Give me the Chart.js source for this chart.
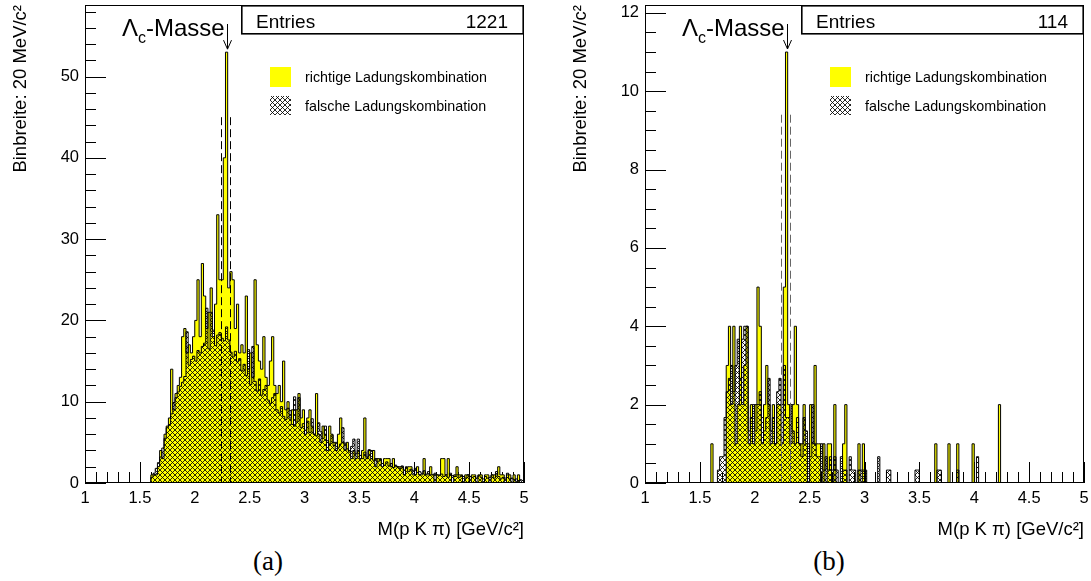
<!DOCTYPE html>
<html>
<head>
<meta charset="utf-8">
<script src="https://cdn.jsdelivr.net/npm/chart.js@4.4.0/dist/chart.umd.min.js"></script>
<style>
  body { margin: 0; background: #fff; width: 1091px; height: 581px; overflow: hidden; position: relative; }
  .panel { position: absolute; top: 0; width: 545px; height: 545px; }
  .caption { position: absolute; top: 548px; width: 80px; text-align: center; line-height: 1;
             font-family: "Liberation Serif", "DejaVu Serif", serif; font-size: 27px; color: #000; }
</style>
</head>
<body>
<div class="panel" style="left:0"><canvas id="chartA" width="545" height="545"></canvas></div>
<div class="panel" style="left:560px"><canvas id="chartB" width="545" height="545"></canvas></div>
<div class="caption" style="left:228px">(a)</div>
<div class="caption" style="left:789px">(b)</div>
<script>
// binning: 200 bins of 20 MeV from 1 to 5 GeV
const binLow = 1.0;
const binWidth = 0.02;
const xTicks = [1, 1.5, 2, 2.5, 3, 3.5, 4, 4.5, 5];
const yTicksA = [0, 10, 20, 30, 40, 50];
const yTicksB = [0, 2, 4, 6, 8, 10, 12];

// (a) richtige Ladungskombination
const yellowA = [
  0, 0, 0, 0, 0, 0, 0, 0, 0, 0,
  0, 0, 0, 0, 0, 0, 0, 0, 0, 0,
  0, 0, 0, 0, 0, 0, 0, 0, 0, 0,
  1, 1, 1, 2, 4, 3, 6, 7, 8, 14,
  9, 11, 12, 13, 18, 19, 16, 17, 16, 18,
  20, 25, 18, 27, 23, 19, 21, 24, 18, 22,
  33, 25, 25, 40, 53, 24, 26, 25, 19, 22,
  16, 17, 16, 23, 14, 16, 13, 25, 17, 15,
  14, 18, 13, 12, 15, 18, 12, 11, 12, 10,
  15, 9, 10, 8, 9, 7, 9, 11, 8, 9,
  6, 8, 9, 7, 6, 11, 6, 5, 7, 6,
  4, 7, 6, 5, 4, 6, 8, 5, 4, 5,
  4, 3, 4, 3, 4, 3, 4, 8, 3, 4,
  3, 4, 2, 3, 3, 2, 3, 3, 3, 2,
  3, 2, 2, 2, 2, 1, 2, 2, 2, 1,
  1, 2, 1, 1, 3, 1, 1, 2, 1, 0,
  1, 1, 3, 3, 1, 3, 1, 0, 1, 2,
  1, 1, 0, 1, 1, 0, 1, 1, 0, 1,
  1, 0, 1, 1, 0, 1, 1, 1, 2, 1,
  1, 0, 1, 1, 0, 1, 0, 1, 0, 0
];

// (a) falsche Ladungskombination
const hatchA = [
  0, 0, 0, 0, 0, 0, 0, 0, 0, 0,
  0, 0, 0, 0, 0, 0, 0, 0, 0, 0,
  0, 0, 0, 0, 0, 0, 0, 0, 0, 0,
  0.7, 1.2, 1.8, 2.5, 3.2, 4.3, 5.5, 6.8, 7.2, 8.5,
  9.9, 10.5, 11.2, 11.9, 12.4, 13.1, 18.6, 14.5, 15.2, 15.6,
  15.0, 16.3, 16.0, 16.8, 17.2, 21.5, 16.5, 21.0, 18.8, 16.9,
  18.2, 18.5, 17.8, 17.5, 19.2, 17.6, 16.1, 15.5, 16.2, 14.9,
  15.3, 13.8, 14.6, 13.2, 16.4, 12.1, 16.8, 12.5, 11.3, 12.8,
  10.8, 11.5, 12.0, 10.2, 9.8, 10.5, 11.0, 9.0, 8.6, 9.4,
  8.2, 7.8, 9.2, 8.9, 7.2, 10.6, 7.5, 10.5, 6.8, 7.3,
  6.5, 7.6, 6.2, 7.9, 6.0, 5.8, 7.4, 6.3, 5.5, 7.0,
  5.2, 4.8, 5.9, 4.6, 5.0, 4.4, 4.8, 6.8, 4.9, 4.2,
  3.8, 4.5, 5.4, 3.6, 5.4, 3.4, 3.0, 3.8, 3.2, 4.1,
  4.0, 2.8, 3.0, 2.6, 2.9, 2.4, 2.2, 2.6, 2.1, 2.4,
  1.9, 2.2, 2.0, 1.8, 2.1, 1.6, 1.9, 1.4, 1.7, 1.5,
  1.8, 1.3, 1.4, 1.2, 1.5, 1.1, 1.4, 1.0, 1.0, 1.2,
  1.0, 0.9, 1.1, 0.8, 1.0, 0.7, 1.2, 0.9, 0.8, 1.0,
  0.7, 0.9, 0.8, 0.6, 1.0, 0.8, 0.7, 0.8, 0.6, 0.9,
  0.7, 0.5, 0.8, 0.6, 0.7, 1.0, 0.6, 1.4, 0.8, 0.5,
  0.7, 0.6, 1.2, 0.5, 0.6, 0.4, 0.5, 0.3, 0.4, 0.3
];

// (b) richtige Ladungskombination
const yellowB = [
  0, 0, 0, 0, 0, 0, 0, 0, 0, 0,
  0, 0, 0, 0, 0, 0, 0, 0, 0, 0,
  0, 0, 0, 0, 0, 0, 0, 0, 0, 0,
  1, 0, 0, 0, 0, 0, 0, 3, 4, 2,
  4, 1, 2, 4, 2, 3, 4, 1, 2, 1,
  2, 5, 4, 1, 2, 3, 2, 1, 2, 1,
  2, 2, 1, 5, 11, 2, 1, 2, 4, 2,
  1, 1, 2, 1, 0, 2, 1, 3, 1, 1,
  0, 1, 0, 1, 1, 0, 2, 0, 0, 0,
  1, 2, 0, 0, 0, 0, 0, 1, 0, 1,
  0, 0, 0, 0, 0, 0, 0, 0, 0, 0,
  0, 0, 0, 0, 0, 0, 0, 0, 0, 0,
  0, 0, 0, 0, 0, 0, 0, 0, 0, 0,
  0, 0, 1, 0, 0, 0, 0, 0, 1, 0,
  0, 0, 1, 0, 0, 0, 0, 0, 0, 1,
  0, 0, 0, 0, 0, 0, 0, 0, 0, 0,
  0, 2, 0, 0, 0, 0, 0, 0, 0, 0,
  0, 0, 0, 0, 0, 0, 0, 0, 0, 0,
  0, 0, 0, 0, 0, 0, 0, 0, 0, 0,
  0, 0, 0, 0, 0, 0, 0, 0, 0, 0
];

// (b) falsche Ladungskombination
const hatchB = [
  0, 0, 0, 0, 0, 0, 0, 0, 0, 0,
  0, 0, 0, 0, 0, 0, 0, 0, 0, 0,
  0, 0, 0, 0, 0, 0, 0, 0, 0, 0,
  0, 0, 0, 0.33, 0.67, 0.67, 1.67, 2.33, 2.67, 3,
  2.33, 3, 3.67, 2.67, 3.67, 4, 4, 1.33, 1.67, 2,
  1.33, 2, 2.33, 1.67, 1.33, 1.67, 2.67, 1.33, 1.67, 1,
  2.33, 2.67, 2, 3, 1.67, 1.67, 2, 1.33, 1, 1.67,
  1, 0.67, 1.67, 1.33, 1, 0.67, 2, 1, 0.67, 0.67,
  1, 0.33, 0.67, 0.33, 0.67, 0.33, 0.67, 0.33, 0, 0.67,
  0.33, 0.33, 0, 0.67, 0.33, 0.33, 0, 0.33, 0.33, 0.33,
  0.33, 0, 0, 0, 0, 0, 0.67, 0, 0, 0,
  0.33, 0.33, 0, 0, 0, 0, 0, 0, 0, 0,
  0, 0, 0, 0.33, 0.33, 0, 0, 0, 0, 0,
  0, 0, 0, 0.33, 0.33, 0, 0, 0, 0, 0,
  0, 0, 0.33, 0, 0, 0, 0, 0, 0, 0,
  0, 0.67, 0, 0, 0, 0, 0, 0, 0, 0,
  0, 0, 0, 0, 0, 0, 0, 0, 0, 0,
  0, 0, 0, 0, 0, 0, 0, 0, 0, 0,
  0, 0, 0, 0, 0, 0, 0, 0, 0, 0,
  0, 0, 0, 0, 0, 0, 0, 0, 0, 0
];

const fontSans = '"Liberation Sans", Arial, Helvetica, sans-serif';

// bin contents -> step points at the lower bin edges, closed at the upper end
function histPoints(bins) {
  const pts = bins.map((v, i) => ({ x: binLow + i * binWidth, y: v }));
  pts.push({ x: binLow + bins.length * binWidth, y: 0 });
  return pts;
}

// cross hatch like ROOT fill style 3144
function hatchPattern(ctx) {
  const n = 5;
  const tile = document.createElement('canvas');
  tile.width = n;
  tile.height = n;
  const c = tile.getContext('2d');
  c.strokeStyle = '#000';
  c.lineWidth = 0.85;
  c.beginPath();
  for (let k = -n; k <= n; k += n) {
    c.moveTo(k, 0); c.lineTo(k + n, n);
    c.moveTo(k + n, 0); c.lineTo(k, n);
  }
  c.stroke();
  return ctx.createPattern(tile, 'repeat');
}

// ticks inside the frame, frame, stats box, legend, mass window and arrow
const rootDecor = {
  id: 'rootDecor',
  beforeDatasetsDraw(chart, args, o) {
    const { ctx, chartArea: a, scales: { x, y } } = chart;
    ctx.save();
    ctx.strokeStyle = '#000';
    ctx.lineWidth = 1;
    ctx.beginPath();
    for (let k = 0; k <= 40; k++) {
      const px = Math.round(x.getPixelForValue(1 + k * 0.1)) + 0.5;
      ctx.moveTo(px, a.bottom);
      ctx.lineTo(px, a.bottom - (k % 5 === 0 ? 21 : 11));
    }
    const nMinor = Math.floor(y.max / o.yMinor + 1e-6);
    for (let k = 0; k <= nMinor; k++) {
      const v = k * o.yMinor;
      const py = Math.round(y.getPixelForValue(v)) + 0.5;
      const major = k % Math.round(o.yMajor / o.yMinor) === 0;
      ctx.moveTo(a.left, py);
      ctx.lineTo(a.left + (major ? 21 : 11), py);
    }
    ctx.stroke();
    ctx.restore();
  },
  afterDatasetsDraw(chart, args, o) {
    const { ctx, chartArea: a, scales: { x, y } } = chart;
    const hatch = chart.data.datasets[0].backgroundColor;
    ctx.save();

    // mass window
    ctx.strokeStyle = o.dashColor;
    ctx.lineWidth = 1;
    ctx.setLineDash([8, 4]);
    ctx.beginPath();
    [o.windowLo, o.windowHi].forEach(m => {
      const px = Math.round(x.getPixelForValue(m)) + 0.5;
      ctx.moveTo(px, y.getPixelForValue(o.windowTop));
      ctx.lineTo(px, a.bottom);
    });
    ctx.stroke();
    ctx.setLineDash([]);

    // arrow onto the peak bin
    const ax = Math.round(x.getPixelForValue(o.peakX)) + 0.5;
    const tip = y.getPixelForValue(o.peakValue) - 3;
    ctx.strokeStyle = '#000';
    ctx.beginPath();
    ctx.moveTo(ax, 24);
    ctx.lineTo(ax, tip);
    ctx.moveTo(ax - 4, tip - 9);
    ctx.lineTo(ax, tip);
    ctx.lineTo(ax + 4, tip - 9);
    ctx.stroke();

    // frame
    ctx.lineWidth = 1;
    ctx.strokeRect(a.left + 0.5, a.top + 0.5, a.right - a.left - 1, a.bottom - a.top - 1);

    // stats box
    const bx = 241, bh = 28;
    ctx.fillStyle = '#fff';
    ctx.fillRect(bx, a.top, a.right - bx, bh);
    ctx.lineWidth = 1.6;
    ctx.strokeRect(bx + 0.8, a.top + 0.8, a.right - bx - 1.6, bh);
    ctx.fillStyle = '#000';
    ctx.font = '19px ' + fontSans;
    ctx.textBaseline = 'alphabetic';
    ctx.textAlign = 'left';
    ctx.fillText('Entries', 256, 27.5);
    ctx.textAlign = 'right';
    ctx.fillText(o.entries, 508, 27.5);

    // legend
    ctx.textAlign = 'left';
    ctx.fillStyle = '#ffff00';
    ctx.fillRect(270, 67, 21, 20);
    ctx.fillStyle = hatch;
    ctx.fillRect(270, 96, 21, 19);
    ctx.fillStyle = '#000';
    ctx.font = '14.3px ' + fontSans;
    ctx.fillText('richtige Ladungskombination', 305, 82);
    ctx.fillText('falsche Ladungskombination', 305, 111);

    // Lambda_c label
    let tx = 122;
    ctx.font = '24px ' + fontSans;
    ctx.fillText('Λ', tx, 36);
    tx += ctx.measureText('Λ').width;
    ctx.font = '16px ' + fontSans;
    ctx.fillText('c', tx, 43);
    tx += ctx.measureText('c').width;
    ctx.font = '24px ' + fontSans;
    ctx.fillText('-Masse', tx, 36);

    ctx.restore();
  }
};

function fixedBox(w, h) {
  return s => {
    if (w) s.width = w;
    if (h) s.height = h;
    s.paddingTop = 0; s.paddingBottom = 0; s.paddingLeft = 0; s.paddingRight = 0;
  };
}

function makePanel(id, yellow, hatched, yMax, yTicks, decor) {
  const canvas = document.getElementById(id);
  const ctx = canvas.getContext('2d');
  const tickFont = { family: fontSans, size: 16.5 };
  const titleFont = { family: fontSans, size: 18.5 };
  return new Chart(ctx, {
    type: 'line',
    data: {
      datasets: [
        {
          label: 'falsche Ladungskombination',
          data: histPoints(hatched),
          stepped: true,
          fill: 'origin',
          backgroundColor: hatchPattern(ctx),
          borderColor: '#000',
          borderWidth: 1,
          pointRadius: 0,
          order: 1
        },
        {
          label: 'richtige Ladungskombination',
          data: histPoints(yellow),
          stepped: true,
          fill: 'origin',
          backgroundColor: '#ffff00',
          borderColor: '#000',
          borderWidth: 1,
          pointRadius: 0,
          order: 2
        }
      ]
    },
    options: {
      responsive: false,
      animation: false,
      devicePixelRatio: 1,
      layout: { padding: { top: 5, right: 21, bottom: 0, left: 0 } },
      plugins: {
        legend: { display: false },
        tooltip: { enabled: false },
        rootDecor: decor
      },
      scales: {
        x: {
          type: 'linear',
          min: 1,
          max: 5,
          grid: { display: false, drawTicks: false },
          border: { display: false },
          afterBuildTicks: s => { s.ticks = xTicks.map(v => ({ value: v })); },
          afterFit: fixedBox(0, 62),
          ticks: { autoSkip: false, maxRotation: 0, padding: 6, color: '#000', font: tickFont,
                   callback: v => String(v) },
          title: { display: true, text: 'M(p K π) [GeV/c²]', align: 'end', color: '#000',
                   font: titleFont, padding: { top: 0, bottom: 4 } }
        },
        y: {
          type: 'linear',
          min: 0,
          max: yMax,
          grid: { display: false, drawTicks: false },
          border: { display: false },
          afterBuildTicks: s => { s.ticks = yTicks.map(v => ({ value: v })); },
          afterFit: fixedBox(85, 0),
          ticks: { padding: 6, color: '#000', font: tickFont, callback: v => String(v) },
          title: { display: true, text: 'Binbreite: 20 MeV/c²', align: 'end', color: '#000',
                   font: titleFont, padding: { top: 10, bottom: 0 } }
        }
      }
    },
    plugins: [rootDecor]
  });
}

makePanel('chartA', yellowA, hatchA, 58.8, yTicksA, {
  entries: '1221', yMinor: 2, yMajor: 10,
  peakX: 2.29, peakValue: 53,
  windowLo: 2.24, windowHi: 2.32, windowTop: 45, dashColor: '#000'
});

makePanel('chartB', yellowB, hatchB, 12.2, yTicksB, {
  entries: '114', yMinor: 0.5, yMajor: 2,
  peakX: 2.29, peakValue: 11,
  windowLo: 2.24, windowHi: 2.32, windowTop: 9.4, dashColor: '#666'
});
</script>
</body>
</html>
